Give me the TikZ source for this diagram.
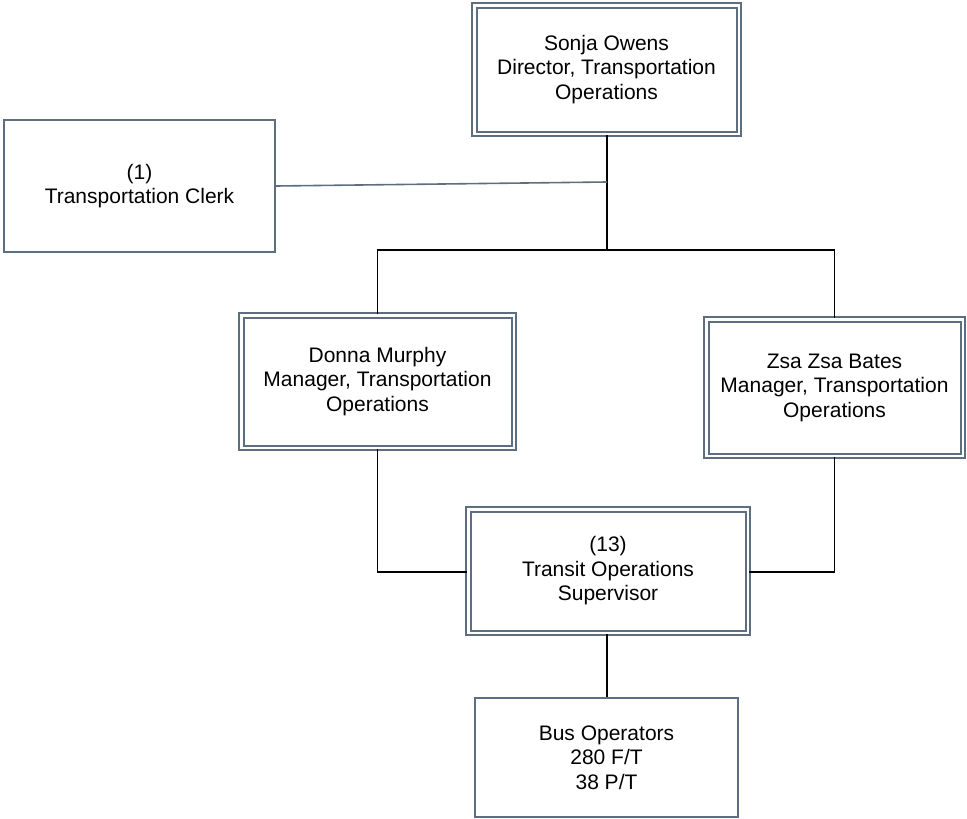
\documentclass[tikz,border=0pt]{standalone}
\usepackage{fontspec}
\setmainfont{Liberation Sans}
\definecolor{edgec}{RGB}{92,110,128}
\begin{document}
\begin{tikzpicture}[x=1pt,y=-1pt,
  lbl/.style={font=\fontsize{21}{24.5}\selectfont, align=center, inner sep=0pt, text=black},
  dbox/.style={lbl, draw=edgec, double=white, double distance=2.5pt, line width=2pt, rectangle},
  sbox/.style={lbl, draw=edgec, line width=2pt, rectangle},
  conn/.style={draw=black, line width=1.6pt},
  connb/.style={draw=edgec, line width=1.6pt}]
\useasboundingbox (0,0) rectangle (967,819);
\node[dbox, minimum width=264.5pt, minimum height=128.5pt] (dir) at (606.5,69.5) {Sonja Owens\\Director, Transportation\\Operations};
\node[sbox, minimum width=271pt, minimum height=132pt] (clerk) at (139.5,186) {(1)\\Transportation Clerk};
\node[dbox, minimum width=272.5pt, minimum height=132.5pt] (donna) at (377.5,381.5) {Donna Murphy\\Manager, Transportation\\Operations};
\node[dbox, minimum width=256.5pt, minimum height=136.5pt] (zsa) at (834.5,387.5) {Zsa Zsa Bates\\Manager, Transportation\\Operations};
\node[dbox, minimum width=279.5pt, minimum height=123.5pt] (sup) at (608,571) {(13)\\Transit Operations\\Supervisor};
\node[sbox, minimum width=263pt, minimum height=119pt] (bus) at (606.5,757.5) {Bus Operators\\280 F/T\\38 P/T};
\coordinate (j) at (607,250);
\coordinate (jc) at (607,182);
\coordinate (ml) at (377.5,572);
\coordinate (mr) at (834.5,572);
\draw[conn] (dir.south -| j) -- (j);
\draw[connb] (clerk.east) -- (jc);
\draw[conn] (donna.north) -- (donna.north |- j) -- (zsa.north |- j) -- (zsa.north);
\draw[conn] (donna.south) -- (ml) -- (sup.west |- ml);
\draw[conn] (zsa.south) -- (mr) -- (sup.east |- mr);
\draw[conn] (sup.south -| j) -- (bus.north -| j);
\end{tikzpicture}
\end{document}
